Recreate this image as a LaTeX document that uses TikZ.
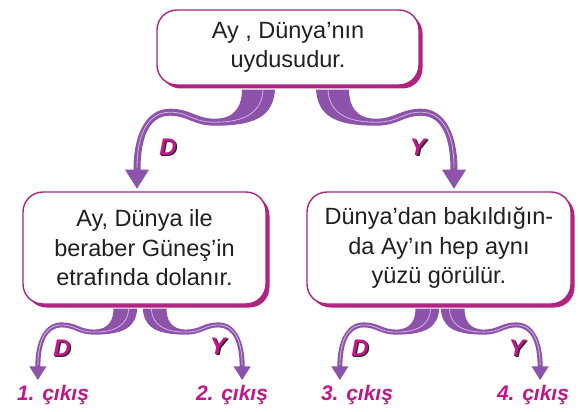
\documentclass[tikz,border=0pt]{standalone}
\usepackage{fontspec}
\setmainfont{Liberation Sans}
\usetikzlibrary{calc,shadows}

\definecolor{boxline}{HTML}{B0237F}
\definecolor{ribbon}{HTML}{8D52A9}
\definecolor{ribbonlight}{HTML}{D2B4E0}
\definecolor{labelpink}{HTML}{C2178A}
\definecolor{textgray}{HTML}{231F20}

\tikzset{
  qbox/.style={draw=boxline, line width=1.4pt, fill=white, rounded corners=20pt,
    align=center, inner sep=0pt, text=textgray, font=\fontsize{23.5}{29.5}\selectfont,
    drop shadow={shadow xshift=3.5pt, shadow yshift=-3.5pt, fill=boxline, opacity=1}},
  opttext/.style={text=labelpink, font=\fontsize{24}{24}\bfseries\itshape, inner sep=0pt},
  optshade/.style={text=black!85, font=\fontsize{24}{24}\bfseries\itshape, inner sep=0pt},
  outlabel/.style={text=labelpink, font=\fontsize{21}{21}\bfseries\itshape, inner sep=0pt},
  pics/ribbon/.style={code={
    \fill[ribbon] (17,0) .. controls (15,25) and (0,36) .. (-43,36)
      .. controls (-65,36) and (-70,26) .. (-88,26)
      .. controls (-110,26) and (-117.5,50) .. (-117.5,80)
      -- (-109,80) -- (-121,99) -- (-133,80) -- (-124.5,80)
      .. controls (-124.5,45) and (-112,19) .. (-88,19)
      .. controls (-68,19) and (-62,29) .. (-43,29)
      .. controls (-22,29) and (-16,15) .. (-16,0) -- cycle;
    \draw[ribbonlight, line width=0.8pt] (5,0) .. controls (4,22) and (-12,32.5) .. (-43,32.5)
      .. controls (-66,32.5) and (-69,22.5) .. (-88,22.5)
      .. controls (-112,22.5) and (-121,48) .. (-121,78);
  }}
}

% shadowed D / Y letters
\newcommand\optlabel[3]{%
  \node[optshade] (#1s) at ($(#2)+(1.4,1)$) {#3};
  \node[opttext] (#1) at (#2) {#3};}

\begin{document}
\begin{tikzpicture}[x=1pt, y=-1pt]
\useasboundingbox (0,0) rectangle (579,412);

% boxes
\node[qbox, minimum width=262pt, minimum height=75pt] (q) at (288,47.5)
  {Ay , Dünya’nın\\uydusudur.};
\node[qbox, minimum width=243pt, minimum height=112pt] (a) at (144.5,248)
  {Ay, Dünya ile\\beraber Güneş’in\\etrafında dolanır.};
\node[qbox, minimum width=264pt, minimum height=112pt] (b) at (439,248)
  {Dünya’dan bakıldığın-\\da Ay’ın hep aynı\\yüzü görülür.};

% ribbons
\pic at ($(q.south)+(-30,4)$) {ribbon};
\pic[xscale=-1] at ($(q.south)+(45,4)$) {ribbon};
\pic[scale=0.72] at ($(a.south)+(-19.5,4)$) {ribbon};
\pic[xscale=-0.72, yscale=0.72] at ($(a.south)+(10.5,4)$) {ribbon};
\pic[scale=0.72] at ($(b.south)+(-12,4)$) {ribbon};
\pic[xscale=-0.72, yscale=0.72] at ($(b.south)+(14,4)$) {ribbon};

% answers
\optlabel{dq}{168,147}{D}
\optlabel{yq}{418,147}{Y}
\optlabel{da}{62,348}{D}
\optlabel{ya}{218,346}{Y}
\optlabel{db}{360,348}{D}
\optlabel{yb}{517,348}{Y}

% exits
\node[outlabel] (out1) at (53,395) {1. çıkış};
\node[outlabel] (out2) at (232,395) {2. çıkış};
\node[outlabel] (out3) at (357,395) {3. çıkış};
\node[outlabel] (out4) at (533,395) {4. çıkış};
\end{tikzpicture}
\end{document}
